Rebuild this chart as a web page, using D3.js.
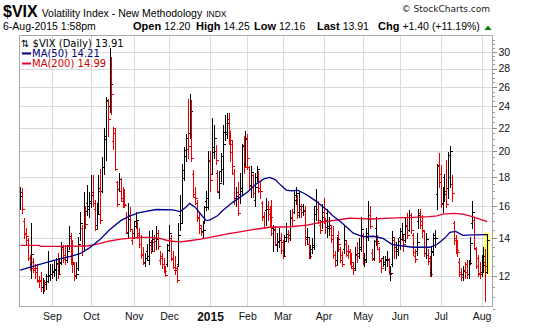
<!DOCTYPE html>
<html><head><meta charset="utf-8">
<script src="https://cdn.jsdelivr.net/npm/d3@7"></script>
<style>
html,body{margin:0;padding:0;background:#fff;}
svg{display:block;}
</style></head><body>
<svg id="c" width="539" height="332"></svg>
<script>
// ---- categories: trading days per month ----
const tradingMonths = [
  ["2014-08",[7,8,11,12,13,14,15,18,19,20,21,22,25,26,27,28,29]],
  ["2014-09",[2,3,4,5,8,9,10,11,12,15,16,17,18,19,22,23,24,25,26,29,30]],
  ["2014-10",[1,2,3,6,7,8,9,10,13,14,15,16,17,20,21,22,23,24,27,28,29,30,31]],
  ["2014-11",[3,4,5,6,7,10,11,12,13,14,17,18,19,20,21,24,25,26,28]],
  ["2014-12",[1,2,3,4,5,8,9,10,11,12,15,16,17,18,19,22,23,24,26,29,30,31]],
  ["2015-01",[2,5,6,7,8,9,12,13,14,15,16,20,21,22,23,26,27,28,29,30]],
  ["2015-02",[2,3,4,5,6,9,10,11,12,13,17,18,19,20,23,24,25,26,27]],
  ["2015-03",[2,3,4,5,6,9,10,11,12,13,16,17,18,19,20,23,24,25,26,27,30,31]],
  ["2015-04",[1,2,6,7,8,9,10,13,14,15,16,17,20,21,22,23,24,27,28,29,30]],
  ["2015-05",[1,4,5,6,7,8,11,12,13,14,15,18,19,20,21,22,26,27,28,29]],
  ["2015-06",[1,2,3,4,5,8,9,10,11,12,15,16,17,18,19,22,23,24,25,26,29,30]],
  ["2015-07",[1,2,6,7,8,9,10,13,14,15,16,17,20,21,22,23,24,27,28,29,30,31]],
  ["2015-08",[3,4,5,6]]
];

// ---- series values ----
const open = [
 16.3,16.9,15.0,14.3,13.9,12.9,12.5,12.7,12.4,12.4,11.8,11.8,11.5,11.6,11.6,12.0,12.0,
 12.1,12.2,12.3,12.6,12.3,12.7,13.4,13.1,12.8,13.6,14.0,12.8,12.6,12.0,12.4,14.3,14.6,13.6,15.3,16.2,15.8,
 16.2,16.9,15.8,14.8,15.6,17.0,17.0,18.7,21.0,24.5,24.0,27.3,20.8,21.5,17.6,17.1,17.0,16.3,16.8,15.3,14.3,15.4,13.9,
 14.3,15.0,14.6,14.3,13.7,13.1,12.7,13.3,12.8,13.6,13.8,13.8,14.0,14.3,12.8,13.0,12.6,12.3,12.6,
 13.6,14.0,12.9,12.3,12.3,12.6,15.4,14.9,17.9,19.6,20.2,21.5,23.0,18.2,16.6,16.2,15.2,14.6,14.4,15.0,16.3,15.9,
 19.3,18.2,20.3,20.0,18.3,16.9,18.4,18.6,21.6,21.6,22.8,21.0,20.6,18.3,16.5,16.9,16.8,17.0,20.5,19.0,
 21.1,18.7,17.4,18.1,16.4,18.0,18.2,17.0,16.2,15.3,15.7,16.0,15.8,15.7,14.6,14.5,13.6,13.8,14.0,
 13.8,13.3,14.1,14.1,14.2,15.3,15.6,16.4,16.5,15.6,15.8,16.0,15.7,14.1,13.7,13.2,13.4,13.5,16.0,15.8,14.8,15.0,
 15.6,14.9,15.5,14.6,14.6,14.2,13.1,12.8,14.2,13.4,13.1,13.4,13.7,13.1,13.3,12.8,12.4,12.4,13.1,13.2,13.5,
 14.2,12.9,12.8,14.1,15.4,13.2,12.9,14.6,13.6,13.4,12.8,12.9,12.6,12.8,12.8,12.2,12.6,13.9,13.5,13.4,
 14.1,14.4,13.9,13.9,14.8,14.5,15.4,14.2,13.0,13.3,15.0,15.5,15.0,14.4,13.2,13.1,12.9,12.2,13.3,14.2,16.8,18.9,
 17.6,16.2,18.0,17.0,17.2,18.0,17.5,14.9,14.0,13.4,12.7,12.2,12.1,12.3,12.6,12.1,12.7,14.9,15.1,13.4,12.9,12.1,
 12.2,12.6,12.7,12.20
];
const high = [
 17.3,17.2,15.2,14.6,14.0,13.1,14.9,12.9,12.6,12.6,12.0,12.2,11.9,11.8,12.1,13.3,12.6,
 12.6,12.8,12.9,13.2,12.9,13.8,13.6,13.6,13.6,14.7,14.3,13.9,12.7,12.7,14.1,15.6,14.8,16.9,16.0,17.4,16.9,
 18.1,18.1,16.4,16.2,18.1,18.6,19.5,22.0,24.9,24.7,30.5,29.4,22.1,22.0,17.7,18.3,17.9,17.3,17.1,15.6,16.2,15.9,14.5,
 15.0,15.6,15.0,14.6,14.2,13.5,13.2,13.7,14.4,13.9,14.5,14.2,14.7,14.5,13.3,13.2,12.9,12.5,13.7,
 14.8,14.2,13.3,13.0,12.5,14.9,16.7,19.0,20.3,21.4,24.7,25.2,24.6,18.5,17.3,16.4,15.6,14.8,15.0,16.0,17.0,20.0,
 20.0,22.9,22.2,20.5,18.5,18.4,19.8,22.2,23.2,23.4,23.4,21.7,20.9,18.6,17.3,17.6,18.3,20.6,21.3,21.7,
 21.4,18.8,18.8,18.2,18.3,18.8,18.4,17.6,16.3,15.6,16.5,16.3,16.0,16.4,14.8,14.7,14.3,14.6,14.3,
 13.9,14.2,14.9,14.5,15.7,15.8,17.0,17.3,16.7,16.9,16.1,16.1,16.0,14.6,14.0,13.6,14.0,16.0,17.1,16.3,15.1,16.1,
 16.5,15.2,15.8,15.3,14.8,14.7,13.3,14.1,14.4,13.5,13.3,14.7,13.9,13.6,13.4,13.2,12.7,13.5,13.8,14.0,15.3,
 14.3,13.2,14.6,16.3,16.0,13.4,13.9,15.3,14.2,13.5,12.9,13.0,13.0,13.3,12.9,12.5,14.4,14.1,13.8,14.0,
 14.6,14.9,14.2,15.2,15.5,15.7,15.5,14.3,13.4,14.3,15.8,15.8,15.4,14.4,14.3,13.4,13.0,13.5,14.3,14.5,19.0,19.8,
 18.9,17.3,18.2,19.3,19.9,20.4,18.1,15.0,14.2,13.9,12.9,12.4,12.5,12.7,12.8,12.8,14.1,16.3,15.2,13.5,13.1,12.7,
 13.1,13.5,13.4,14.25
];
const low = [
 15.8,15.5,14.0,13.6,12.8,12.3,11.9,12.2,11.9,11.7,11.5,11.3,11.2,11.3,11.4,11.7,11.8,
 11.9,12.0,11.8,11.9,12.1,12.6,12.7,12.6,12.7,13.4,12.6,12.2,11.8,11.9,12.3,13.9,13.1,13.4,14.6,15.4,15.3,
 15.9,16.0,14.5,14.6,15.5,14.9,16.9,18.2,19.3,21.3,23.5,23.3,20.2,18.5,16.0,17.0,16.3,15.9,15.9,14.3,14.1,14.4,13.7,
 14.0,14.6,14.0,13.5,12.9,12.6,12.5,12.8,12.6,13.2,13.3,13.3,13.4,13.4,12.6,12.4,12.2,12.0,12.5,
 13.3,12.8,12.4,12.1,11.7,12.5,14.5,14.9,17.8,19.2,19.4,21.1,19.2,16.6,16.1,15.0,14.3,14.2,14.0,14.9,15.7,15.8,
 17.0,18.2,19.4,19.0,16.9,16.5,17.7,17.5,20.9,21.1,20.6,19.2,18.2,16.1,16.0,15.4,16.2,16.7,18.3,18.8,
 18.6,17.1,16.6,16.6,16.0,17.7,16.9,16.5,15.1,14.6,14.8,15.1,14.7,14.2,13.3,13.6,13.3,13.5,13.2,
 12.9,13.0,13.9,13.8,13.9,14.8,15.5,16.1,15.2,15.3,15.3,15.4,13.6,13.7,12.9,12.9,13.2,13.4,15.1,14.9,14.3,14.6,
 14.9,14.3,14.1,14.2,13.8,12.9,12.5,12.6,13.3,12.7,12.5,13.2,13.0,12.9,12.6,12.4,12.1,12.3,12.7,12.9,13.3,
 12.6,12.5,12.7,13.9,14.6,12.8,12.8,13.7,13.4,12.7,12.2,12.5,12.3,12.5,12.1,11.8,12.5,12.9,12.9,13.1,
 13.4,13.9,13.3,13.8,14.0,14.4,14.3,13.1,12.7,13.1,14.6,14.6,14.1,13.0,12.9,12.6,12.0,12.0,13.1,13.5,15.8,17.3,
 15.9,15.6,16.3,15.9,16.5,17.3,16.3,13.7,13.2,13.0,12.0,11.8,11.8,11.9,11.9,11.9,12.6,14.6,13.4,12.4,12.0,11.9,
 12.0,12.2,10.85,12.16
];
const close = [
 16.66,15.77,14.23,14.13,12.90,12.42,13.15,12.32,12.21,11.78,11.76,11.47,11.70,11.63,11.78,12.05,12.09,
 12.25,12.36,12.64,12.09,12.66,13.50,12.88,12.80,13.31,14.12,12.73,12.65,12.03,12.11,13.69,14.93,13.27,15.64,14.85,15.98,16.31,
 16.71,16.16,14.55,15.46,17.20,15.11,18.76,21.24,24.64,22.79,26.25,25.20,21.99,18.57,16.08,17.87,16.53,16.11,16.04,14.39,15.15,14.52,14.03,
 14.73,15.10,14.17,13.67,13.12,12.67,12.92,13.02,13.79,13.31,13.99,13.86,13.96,13.58,12.90,12.62,12.25,12.07,13.33,
 14.29,12.85,12.47,12.38,11.82,14.21,14.89,18.53,20.08,21.08,20.42,23.57,19.44,16.81,16.49,15.25,14.80,14.37,14.50,15.92,16.49,19.20,
 17.79,19.92,21.12,19.31,17.01,17.55,19.60,20.56,21.48,22.39,20.95,19.89,18.85,16.40,16.66,15.52,17.22,20.44,18.76,20.97,
 19.43,17.33,18.33,16.85,17.29,18.55,17.23,16.96,15.34,14.69,15.80,15.45,15.29,14.30,14.56,13.69,13.84,13.91,13.34,
 13.04,13.86,14.23,14.04,15.20,15.06,16.69,16.87,15.42,16.00,15.61,15.66,13.97,14.07,13.02,13.41,13.62,15.44,15.80,15.07,14.51,15.29,
 15.11,14.67,14.74,14.78,13.98,13.09,12.58,13.94,13.67,12.84,12.60,13.89,13.30,13.25,12.71,12.48,12.29,13.12,13.03,13.39,14.55,
 12.70,12.85,14.31,15.15,14.71,12.86,13.85,13.86,13.76,12.74,12.38,12.73,12.85,12.88,12.11,12.13,14.06,13.27,13.31,13.84,
 13.97,14.24,13.66,14.71,14.21,15.29,14.47,13.22,12.85,13.78,15.39,14.81,14.50,13.19,13.96,12.74,12.11,13.26,14.01,14.02,18.85,18.23,
 16.09,16.79,17.01,16.09,19.66,19.97,16.83,13.90,13.37,13.23,12.11,11.95,12.25,12.22,12.12,12.64,13.74,15.60,13.44,12.50,12.13,12.12,
 12.56,13.00,12.51,13.91
];
// moving averages (bar index, value)
const ma50Idx = [0,9,18,27,32,37,43,48,54,59,64,73,82,86,89,91,94,97,100,102,106,109,114,118,122,127,131,134,137,140,143,146,149,153,156,159,162,165,168,172,176,179,184,190,195,200,206,211,220,224,228,231,234,238,243,251];
const ma50 = [12.3,12.55,12.8,13.0,13.15,13.45,13.95,14.5,15.05,15.35,15.55,15.75,15.72,15.62,15.9,16.15,15.9,15.45,15.05,15.1,15.35,15.7,16.2,16.55,16.9,17.5,17.85,17.95,17.8,17.4,17.05,17.0,17.05,16.8,16.55,16.3,16.0,15.7,15.35,15.0,14.6,14.3,14.1,14.12,14.0,13.65,13.57,13.5,13.5,13.65,14.0,14.35,14.4,14.17,14.2,14.21];
const ma200Idx = [0,10,11,20,36,40,43,48,54,64,70,75,80,86,90,97,102,108,113,118,124,134,145,154,163,172,177,188,199,211,220,224,227,233,238,243,247,251];
const ma200 = [13.6,13.6,13.55,13.55,13.57,13.65,13.72,13.85,13.95,14.05,14.05,14.0,13.85,13.8,13.85,13.95,14.05,14.18,14.29,14.38,14.49,14.65,14.68,14.78,14.98,15.12,15.2,15.15,15.2,15.25,15.3,15.35,15.45,15.5,15.45,15.3,15.15,14.99];

// ---- tick labels ----
const yTicks = [12,14,16,18,20,22,24,26,28,30];
const monthTicks = [
  ["2014-09-02","Sep"],["2014-10-01","Oct"],["2014-11-03","Nov"],["2014-12-01","Dec"],
  ["2015-01-02","2015"],["2015-02-02","Feb"],["2015-03-02","Mar"],["2015-04-01","Apr"],
  ["2015-05-01","May"],["2015-06-01","Jun"],["2015-07-01","Jul"],["2015-08-03","Aug"]
];

const dates = [];
tradingMonths.forEach(([m, days]) => days.forEach(d => dates.push(m + "-" + String(d).padStart(2,"0"))));

const svg = d3.select("#c");
const P = {l:19.5, r:492.5, t:35.5, b:306.5};
const x = d3.scaleLinear().domain([0, dates.length-1]).range([20.3, 487.2]);
const y = d3.scaleLog().domain([10.59, 31.99]).range([306.7, 36]);
const px = i => Math.round(x(i)) + 0.5;
const py = v => Math.round(y(v)) + 0.5;
const SANS = "'Liberation Sans', Arial, sans-serif";
const VERD = "'DejaVu Sans', Verdana, sans-serif";

// grid
const grid = svg.append("g").attr("shape-rendering","crispEdges");
grid.selectAll("line.h").data(yTicks).join("line")
  .attr("x1",P.l).attr("x2",P.r).attr("y1",d=>py(d)).attr("y2",d=>py(d))
  .attr("stroke","#dadada");
const monthIdx = monthTicks.map(d => dates.indexOf(d[0]));
grid.selectAll("line.v").data(monthIdx).join("line")
  .attr("x1",d=>px(d)).attr("x2",d=>px(d)).attr("y1",P.t).attr("y2",P.b)
  .attr("stroke","#dadada");

// highlight of last bar
const last = dates.length-1;
svg.append("rect")
  .attr("x", px(last)-3.5).attr("width", 5.5)
  .attr("y", y(high[last])-1.5).attr("height", y(low[last])-y(high[last])+3.5)
  .attr("fill","#ffff66");

// bars
const bars = svg.append("g").attr("shape-rendering","crispEdges").attr("fill","none");
bars.selectAll("path").data(d3.range(dates.length)).join("path")
  .attr("d", i => {
    const xi = px(i);
    return `M${xi},${Math.round(y(high[i]))}V${Math.round(y(low[i]))+1}` +
           `M${xi-2},${py(open[i])}H${xi}` +
           `M${xi},${py(close[i])}H${xi+2}`;
  })
  .attr("stroke", i => (i === 0 || close[i] >= close[i-1]) ? "#000" : "#e80000")
  .attr("stroke-width", 1);

// moving averages
const line = d3.line().x(d=>x(d[0])).y(d=>y(d[1]));
svg.append("path").datum(ma200Idx.map((d,k)=>[d,ma200[k]]))
  .attr("d", line).attr("fill","none").attr("stroke","#e6002a").attr("stroke-width",1.3);
svg.append("path").datum(ma50Idx.map((d,k)=>[d,ma50[k]]))
  .attr("d", line).attr("fill","none").attr("stroke","#00008c").attr("stroke-width",1.3);

// frame
svg.append("rect").attr("x",P.l).attr("y",P.t).attr("width",P.r-P.l).attr("height",P.b-P.t)
  .attr("fill","none").attr("stroke","#a8a8a8").attr("shape-rendering","crispEdges");

// right axis
const minor = d3.range(21, 64).map(k => k/2).filter(v => !yTicks.includes(v));
const minorAxis = svg.append("g").attr("transform",`translate(${P.r},0)`)
  .call(d3.axisRight(y).tickValues(minor).tickSize(2).tickFormat(""));
minorAxis.select(".domain").remove();
minorAxis.selectAll("line").attr("stroke","#999").attr("shape-rendering","crispEdges");
const yAxis = svg.append("g").attr("transform",`translate(${P.r},0)`)
  .call(d3.axisRight(y).tickValues(yTicks).tickSize(4).tickPadding(2).tickFormat(d3.format("d")));
yAxis.select(".domain").remove();
yAxis.selectAll("line").attr("stroke","#888").attr("shape-rendering","crispEdges");
yAxis.selectAll("text").attr("font-family",SANS).attr("font-size","10.5px").attr("fill","#111");

// bottom axis
const xAxis = svg.append("g").attr("transform",`translate(0,${P.b})`)
  .call(d3.axisBottom(x).tickValues(monthIdx).tickSize(0).tickPadding(6)
    .tickFormat((d,k)=>monthTicks[k][1]));
xAxis.select(".domain").remove();
xAxis.selectAll("text").attr("font-family",SANS).attr("fill","#111")
  .attr("font-weight",(d,k)=>monthTicks[k][1]==="2015"?"bold":"normal")
  .attr("font-size",(d,k)=>monthTicks[k][1]==="2015"?"12px":"10.5px");

// header
const h1 = svg.append("text").attr("x",3).attr("y",17).attr("font-family",SANS).attr("fill","#000");
h1.append("tspan").attr("font-weight","bold").attr("font-size","16px").text("$VIX");
h1.append("tspan").attr("dx",4).attr("font-size","10.5px").text("Volatility Index - New Methodology");
h1.append("tspan").attr("dx",4).attr("font-size","8.5px").text("INDX");

svg.append("text").attr("x",490).attr("y",12).attr("text-anchor","end")
  .attr("font-family",VERD).attr("font-size","9px").attr("fill","#222").text("© StockCharts.com");

const h2 = svg.append("text").attr("y",30).attr("font-family",SANS).attr("fill","#000");
h2.append("tspan").attr("x",3).attr("font-size","10.5px").text("6-Aug-2015 1:58pm");
const stats = [["Open","12.20",133],["High","14.25",196],["Low","12.16",254],["Last","13.91",317],["Chg","+1.40 (+11.19%)",378]];
stats.forEach(([k,v,xx]) => {
  h2.append("tspan").attr("x",xx).attr("font-weight","bold").attr("font-size","11px").text(k);
  h2.append("tspan").attr("dx",3).attr("font-size","10.5px").text(v);
});
svg.append("path").attr("d","M484.5,30L491.5,30L488,25.5Z").attr("fill","#007a00");

// legend
const lg = svg.append("g").attr("font-family",VERD).attr("font-size","10px");
lg.append("text").attr("x",21).attr("y",47).attr("fill","#000").text("⇅ $VIX (Daily) 13.91");
lg.append("line").attr("x1",22).attr("x2",31).attr("y1",53.5).attr("y2",53.5).attr("stroke","#00008c").attr("stroke-width",2);
lg.append("text").attr("x",32).attr("y",57).attr("fill","#00007a").text("MA(50) 14.21");
lg.append("line").attr("x1",22).attr("x2",31).attr("y1",63.5).attr("y2",63.5).attr("stroke","#e6002a").attr("stroke-width",2);
lg.append("text").attr("x",32).attr("y",67).attr("fill","#d00000").text("MA(200) 14.99");
</script>
</body></html>
